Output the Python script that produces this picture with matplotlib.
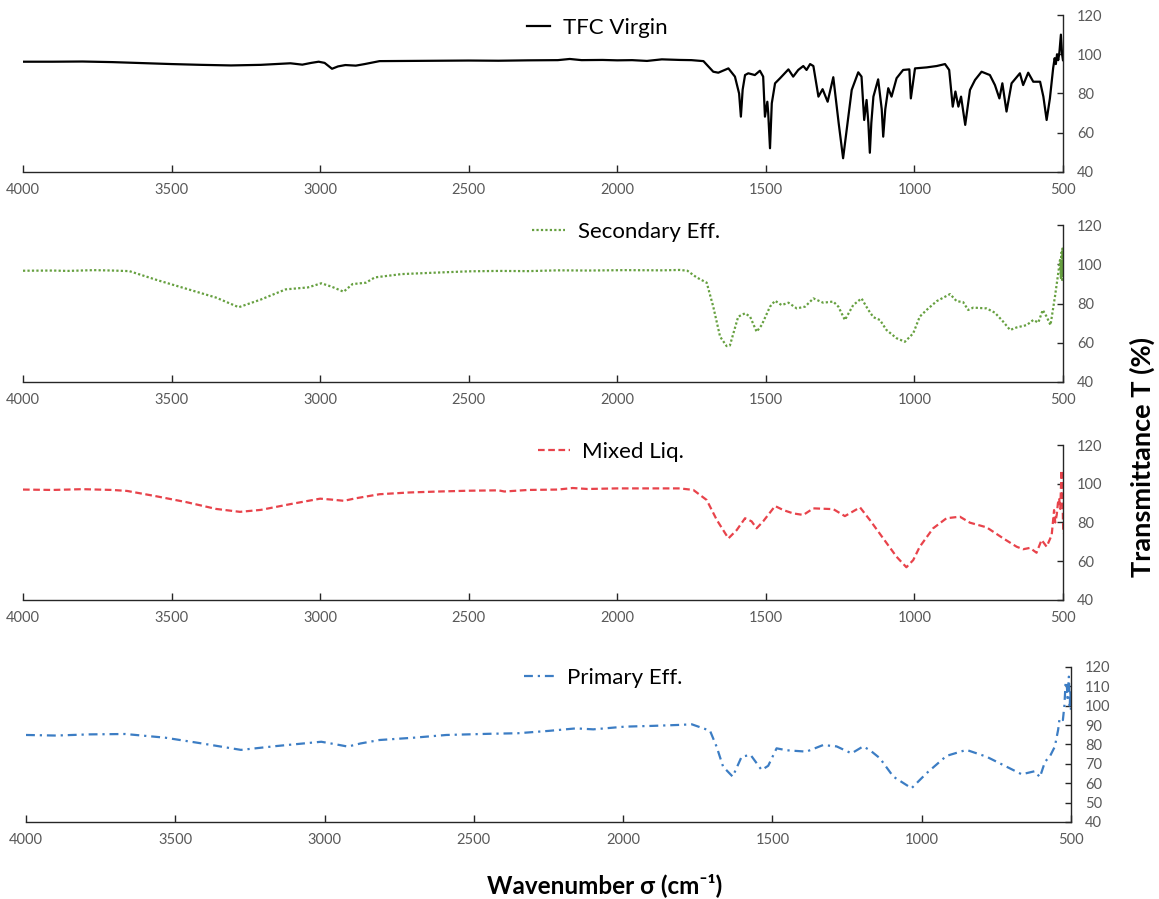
import matplotlib
matplotlib.use('Agg')
import matplotlib.pyplot as plt

plt.rcParams['font.family'] = ['Lato', 'DejaVu Sans']

# TFC Virgin membrane
tfc_wn = [4000, 3900, 3800, 3700, 3600, 3500, 3400, 3300, 3200, 3100, 3060, 3030, 3005, 2985,
          2960, 2940, 2915, 2880, 2850, 2800, 2700, 2600, 2500, 2400, 2300, 2200, 2160, 2120,
          2050, 2000, 1950, 1900, 1850, 1789, 1750, 1710, 1677, 1660, 1626, 1604, 1590, 1584,
          1578, 1570, 1559, 1537, 1520, 1509, 1503, 1495, 1492, 1486, 1480, 1469, 1452, 1424,
          1408, 1391, 1374, 1363, 1351, 1340, 1323, 1309, 1292, 1273, 1255, 1240, 1225, 1211,
          1189, 1178, 1169, 1161, 1155, 1150, 1145, 1138, 1122, 1110, 1105, 1098, 1088, 1077,
          1060, 1038, 1017, 1012, 998, 959, 925, 897, 883, 871, 862, 852, 843, 829, 813, 796,
          774, 746, 729, 714, 704, 690, 673, 645, 634, 617, 600, 577, 566, 555, 544, 533, 528,
          524, 520, 516, 512, 507, 503, 500]
tfc_t = [96.2, 96.2, 96.3, 96.0, 95.5, 95.0, 94.6, 94.3, 94.6, 95.4, 94.7, 95.6, 96.2, 95.6,
         92.6, 93.8, 94.5, 94.2, 95.0, 96.5, 96.6, 96.7, 96.8, 96.7, 96.9, 97.0, 97.6, 97.0,
         97.1, 96.9, 97.0, 96.6, 97.4, 97.1, 97.0, 96.5, 91.1, 90.6, 92.8, 88.6, 80.0, 68.2,
         82.0, 89.4, 90.3, 89.4, 91.6, 88.6, 68.2, 75.8, 70.0, 52.1, 75.0, 85.2, 87.8, 92.3,
         88.6, 92.0, 94.0, 92.0, 95.0, 94.0, 78.4, 82.2, 75.8, 88.3, 65.0, 47.0, 65.0, 81.8,
         90.8, 88.6, 66.5, 76.7, 65.0, 49.8, 65.0, 78.4, 87.2, 72.0, 58.0, 72.0, 82.7, 78.4,
         87.8, 92.0, 92.3, 77.5, 92.8, 93.3, 94.0, 95.0, 92.0, 73.3, 81.0, 73.3, 78.4, 64.0,
         81.8, 86.9, 91.1, 89.4, 84.3, 77.5, 85.2, 70.8, 85.2, 90.3, 84.3, 90.6, 86.0, 86.0,
         78.4, 66.5, 77.5, 93.0, 98.0, 95.0, 100.0, 97.0, 101.0, 110.0, 100.0, 97.0]

# Secondary effluent
sec_wn = [4000, 3900, 3850, 3762, 3700, 3642, 3550, 3450, 3350, 3274, 3200, 3116, 3041, 2996,
          2960, 2921, 2891, 2846, 2816, 2725, 2600, 2500, 2400, 2300, 2200, 2100, 1974, 1850,
          1789, 1764, 1733, 1699, 1677, 1654, 1632, 1621, 1593, 1570, 1553, 1531, 1514, 1486,
          1469, 1447, 1424, 1396, 1368, 1340, 1307, 1273, 1256, 1234, 1206, 1178, 1155, 1138,
          1116, 1094, 1060, 1032, 1004, 982, 959, 925, 880, 858, 836, 819, 802, 757, 729, 701,
          678, 656, 622, 600, 583, 568, 555, 542, 527, 516, 510, 507, 505, 503, 502, 501, 500]
sec_t = [96.7, 96.8, 96.6, 97.0, 96.8, 96.5, 92.0, 87.5, 83.0, 78.1, 82.0, 87.2, 88.2, 90.3,
         88.5, 86.0, 89.9, 90.6, 93.3, 95.0, 95.8, 96.4, 96.6, 96.5, 96.9, 96.8, 97.0, 96.9,
         97.1, 96.7, 93.3, 90.6, 78.4, 63.1, 58.3, 58.6, 73.3, 75.0, 73.3, 65.6, 69.0, 78.4,
         81.4, 79.2, 80.4, 77.5, 78.4, 82.6, 80.4, 81.0, 78.4, 71.6, 79.2, 82.6, 76.7, 73.0,
         71.6, 66.5, 62.3, 60.5, 64.8, 73.3, 76.7, 81.2, 84.8, 81.2, 80.7, 76.7, 77.9, 77.5,
         75.3, 70.7, 66.5, 67.8, 69.0, 71.6, 70.3, 76.7, 73.3, 69.0, 83.5, 95.4, 102.2, 93.0,
         106.0, 92.0, 108.0, 95.0, 100.0]

# Mixed liquor
mix_wn = [4000, 3900, 3800, 3700, 3650, 3550, 3450, 3350, 3270, 3200, 3100, 3000, 2960, 2920,
          2880, 2800, 2700, 2600, 2500, 2400, 2380, 2300, 2200, 2150, 2100, 2000, 1900, 1789,
          1744, 1699, 1665, 1626, 1598, 1570, 1548, 1531, 1509, 1469, 1441, 1408, 1374, 1340,
          1273, 1234, 1183, 1150, 1105, 1060, 1027, 1004, 982, 937, 892, 847, 813, 757, 701,
          656, 634, 611, 589, 572, 555, 538, 530, 526, 521, 517, 513, 509, 505, 502, 499]
mix_t = [97.0, 96.8, 97.2, 96.8, 96.3, 93.5, 90.5, 87.0, 85.5, 86.5, 89.5, 92.3, 91.8, 91.2,
         92.5, 94.6, 95.5, 96.0, 96.4, 96.6, 96.0, 96.8, 97.0, 97.8, 97.3, 97.6, 97.6, 97.6,
         96.8, 91.6, 81.3, 71.8, 76.1, 82.2, 80.6, 77.0, 80.6, 88.5, 86.4, 84.7, 83.9, 87.3,
         86.9, 83.3, 87.8, 81.3, 71.8, 62.3, 56.9, 60.6, 67.5, 77.0, 82.2, 83.0, 79.9, 77.5,
         71.8, 67.5, 66.2, 66.9, 64.4, 71.0, 67.5, 73.5, 86.4, 80.0, 84.0, 90.0, 92.5, 87.0,
         107.0, 95.0, 74.4]

# Primary effluent
pri_wn = [4000, 3900, 3788, 3668, 3534, 3414, 3280, 3160, 3011, 2960, 2922, 2880, 2816, 2700,
          2592, 2450, 2352, 2250, 2158, 2100, 1994, 1900, 1810, 1770, 1709, 1687, 1665, 1633,
          1603, 1573, 1536, 1514, 1486, 1452, 1386, 1330, 1285, 1235, 1196, 1173, 1140, 1095,
          1034, 984, 917, 850, 783, 727, 665, 621, 604, 587, 571, 554, 543, 538, 527, 522, 518,
          514, 512, 510, 507, 504, 502, 500]
pri_t = [84.9, 84.6, 85.2, 85.4, 83.5, 80.6, 77.2, 79.2, 81.4, 80.0, 78.9, 80.5, 82.3, 83.5,
         84.9, 85.5, 85.8, 87.0, 88.3, 87.8, 89.2, 89.6, 90.1, 90.4, 87.1, 78.9, 68.5, 63.4,
         73.7, 74.6, 66.8, 69.0, 78.0, 77.0, 76.3, 79.7, 79.0, 75.4, 79.0, 77.0, 72.9, 63.4,
         57.4, 65.1, 74.1, 77.2, 73.7, 69.4, 64.6, 66.2, 63.1, 71.1, 73.7, 78.9, 87.5, 93.5,
         92.6, 100.0, 111.6, 112.4, 104.0, 106.4, 115.0, 100.0, 108.0, 97.0]

x_ticks = [4000, 3500, 3000, 2500, 2000, 1500, 1000, 500]
y_ticks_main = [40, 60, 80, 100, 120]
y_ticks_last = [40, 50, 60, 70, 80, 90, 100, 110, 120]

TICK_GRAY = '#595959'
AXIS_COL = '#262626'


def style_axis(ax, yticks):
    ax.set_xlim(4000, 500)
    ax.set_ylim(40, 120)
    ax.set_xticks(x_ticks)
    ax.set_yticks(yticks)
    for side in ['top', 'left']:
        ax.spines[side].set_visible(False)
    for side in ['bottom', 'right']:
        ax.spines[side].set_color(AXIS_COL)
        ax.spines[side].set_linewidth(1.0)
    ax.yaxis.tick_right()
    ax.tick_params(axis='x', direction='in', length=5, width=1.0, color=AXIS_COL,
                   labelcolor=TICK_GRAY, labelsize=10.5, pad=8)
    ax.tick_params(axis='y', direction='in', length=4, width=1.0, color=AXIS_COL,
                   labelcolor=TICK_GRAY, labelsize=10.5, pad=10)
    ax.patch.set_alpha(0)


def add_legend(ax, fig, line, label, pos, hlen):
    ax.legend([line], [label], loc='center left', bbox_to_anchor=pos,
              bbox_transform=fig.transFigure, frameon=False, fontsize=16,
              handlelength=hlen, handletextpad=0.55, borderpad=0, borderaxespad=0)


def main():
    fig = plt.figure(figsize=(11.59, 8.99), dpi=100)

    ax1 = fig.add_axes([0.01985, 0.8087, 0.8973, 0.1746])
    ax2 = fig.add_axes([0.01985, 0.5751, 0.8973, 0.1746])
    ax3 = fig.add_axes([0.01985, 0.3326, 0.8973, 0.1724])
    ax4 = fig.add_axes([0.02243, 0.0857, 0.9016, 0.1724])

    l1, = ax1.plot(tfc_wn, tfc_t, color='black', lw=1.6)
    l2, = ax2.plot(sec_wn, sec_t, color='#66A040', lw=1.6, linestyle=(0, (1, 1)))
    l3, = ax3.plot(mix_wn, mix_t, color='#E8434B', lw=1.6, linestyle=(0, (3, 1.6)))
    l4, = ax4.plot(pri_wn, pri_t, color='#3C7DC4', lw=1.6, linestyle=(0, (4, 2.2, 1, 2.2)))

    style_axis(ax1, y_ticks_main)
    style_axis(ax2, y_ticks_main)
    style_axis(ax3, y_ticks_main)
    style_axis(ax4, y_ticks_last)

    add_legend(ax1, fig, l1, 'TFC Virgin', (0.4547, 0.9689), 1.05)
    add_legend(ax2, fig, l2, 'Secondary Eff.', (0.459, 0.742), 1.5)
    add_legend(ax3, fig, l3, 'Mixed Liq.', (0.4642, 0.4972), 1.45)
    add_legend(ax4, fig, l4, 'Primary Eff.', (0.4521, 0.2458), 1.4)

    fig.text(0.522, 0.0156, 'Wavenumber σ (cm⁻¹)', ha='center', va='center',
             fontsize=17.5, weight='bold')
    fig.text(0.9853, 0.4917, 'Transmittance T (%)', rotation=90, ha='center',
             va='center', fontsize=19.5, weight='bold')

    fig.savefig('out.png', dpi=100)


if __name__ == '__main__':
    main()
